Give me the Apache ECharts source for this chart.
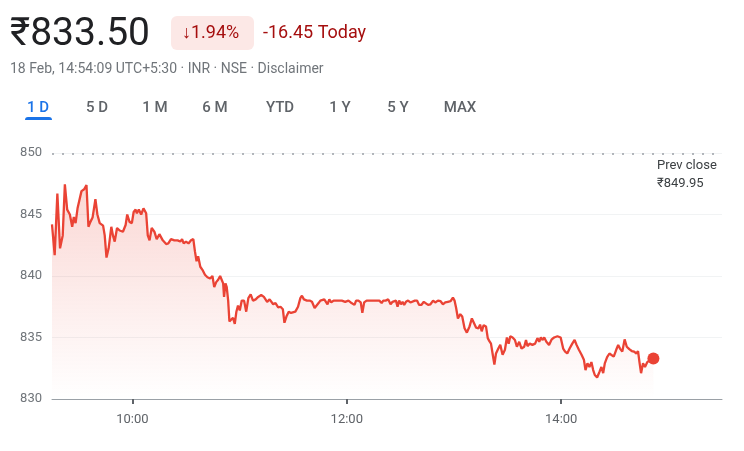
<!DOCTYPE html>
<html>
<head>
<meta charset="utf-8">
<script src="https://cdn.jsdelivr.net/npm/echarts@6/dist/echarts.min.js"></script>
<style>
  html, body { margin: 0; padding: 0; background: #fff; }
  #chart { width: 744px; height: 451px; }
</style>
</head>
<body>
<div id="chart"></div>
<script>
// minutes since market open (09:15)
const minutes = [
  0, 1.5, 3.0, 4.5, 6.0, 7.2, 8.5, 10.0, 11.3, 12.2, 13.2, 14.3, 15.2, 16.5, 18.0, 19.3,
  20.4, 21.5, 22.7, 23.4, 24.3, 25.4, 26.7, 28.6, 29.5, 30.5, 31.7, 33.2, 34.1, 35.1, 36.4, 37.9,
  39.7, 41.2, 42.1, 43.4, 44.7, 45.7, 46.8, 47.5, 48.6, 49.9, 51.2, 52.7, 53.6, 54.6, 55.8, 57.3,
  58.6, 60.1, 62.0, 63.9, 65.1, 66.6, 68.5, 70.3, 71.8, 72.8, 73.7, 75.0, 76.4, 77.8, 79.1, 80.0,
  80.9, 81.8, 83.0, 84.2, 85.6, 87.0, 88.5, 89.8, 90.8, 91.9, 93.0, 94.1, 95.0, 95.8, 96.3, 97.1,
  97.8, 98.6, 99.3, 100.4, 101.3, 102.3, 103.2, 104.1, 105.1, 106.2, 107.5, 108.7, 109.9, 111.2, 112.5, 114.0,
  115.4, 117.1, 118.6, 120.4, 121.8, 122.9, 123.8, 125.1, 126.6, 127.9, 129.2, 130.1, 131.2, 132.5, 133.8, 134.9,
  136.2, 137.7, 139.0, 139.9, 141.0, 142.7, 144.2, 145.5, 147.0, 148.1, 149.2, 150.2, 151.1, 152.4, 153.3, 154.2,
  155.2, 156.3, 157.6, 160.4, 162.2, 164.1, 165.9, 167.2, 168.3, 169.3, 170.2, 171.5, 172.8, 173.7, 174.7, 176.1,
  178.0, 179.8, 181.7, 183.2, 184.5, 185.4, 186.7, 188.2, 189.5, 190.6, 191.5, 192.5, 193.4, 194.3, 195.3, 196.2,
  197.1, 198.1, 199.3, 200.6, 201.7, 203.1, 204.3, 205.5, 206.7, 208.1, 209.2, 210.5, 211.8, 213.3, 214.5, 216.0,
  217.5, 218.8, 220.1, 221.6, 223.1, 224.4, 225.3, 226.2, 227.2, 228.5, 229.6, 230.9, 232.2, 233.7, 235.0, 236.1,
  237.4, 238.7, 239.6, 240.5, 241.6, 242.9, 243.9, 244.8, 245.7, 246.7, 247.6, 248.5, 249.8, 250.9, 252.2, 253.5,
  254.6, 255.6, 256.5, 257.8, 259.1, 260.2, 261.5, 262.8, 264.3, 265.3, 266.1, 267.4, 268.9, 270.4, 271.7, 272.7,
  273.6, 274.5, 275.5, 276.7, 278.2, 279.7, 281.0, 282.9, 284.7, 286.1, 287.2, 288.4, 289.7, 291.2, 292.5, 293.6,
  294.9, 296.4, 297.7, 298.6, 299.7, 300.8, 301.9, 302.9, 303.8, 305.1, 306.4, 307.5, 308.5, 309.4, 310.7, 312.0,
  313.1, 314.4, 315.8, 316.9, 317.9, 319.2, 320.5, 321.7, 323.1, 324.5, 325.8, 327.1, 328.0, 328.9, 329.7, 330.8,
  331.9, 333.2, 335.0, 336.6
]
const prices = [
  844.2, 841.7, 846.7, 842.25, 843.3, 847.45, 845.4, 845, 844, 844.8, 844.3, 845.5, 845.6, 846.9, 847.05, 847.4,
  844, 844.4, 844.75, 844.7, 846.25, 845, 844.3, 844.1, 843.3, 841.5, 842.25, 844, 843.3, 842.8, 843.9, 843.7,
  843.6, 844.15, 845, 844.4, 844.3, 845.2, 845.4, 845.1, 845.4, 845, 845.5, 845.1, 843.3, 842.9, 843.9, 843.6,
  843, 843.4, 842.9, 842.6, 842.65, 843, 842.9, 842.9, 842.8, 843, 842.65, 842.8, 842.65, 842.9, 843, 842,
  841.2, 841.6, 840.75, 840.5, 840.1, 839.9, 839.8, 840, 839.1, 839.5, 839.7, 840, 840.1, 839.4, 838.3, 839.4,
  839.1, 838, 836.3, 836.15, 836.6, 836.1, 837.1, 837.6, 837.2, 838, 838, 837.1, 838.2, 838.5, 838, 838.1,
  838.3, 838.45, 838.3, 837.9, 838.1, 838.2, 837.7, 837.8, 837.45, 837.5, 837.3, 836.2, 836.7, 837.1, 837, 837,
  837.1, 837.5, 838.2, 838.4, 838.1, 838, 838, 837.9, 837.4, 837.3, 837.8, 838, 837.85, 838.1, 838.2, 837.7,
  838.1, 837.85, 838, 838, 838, 837.9, 838, 837.85, 838, 837.65, 838, 838, 837.85, 837, 837.85, 838,
  838, 838, 838, 838, 837.8, 838, 838, 838.1, 837.7, 837.9, 838, 838, 837.5, 838, 837.7, 837.9,
  837.65, 837.9, 838, 837.85, 837.9, 838, 838, 837.65, 837.65, 837.9, 838, 837.65, 837.7, 838, 837.85, 838,
  837.95, 837.7, 837.85, 837.9, 837.95, 838.25, 838, 837.4, 836.55, 836.9, 836.7, 835.75, 835.4, 835.9, 836.55, 836.4,
  835.8, 835.75, 836.05, 835.5, 836, 835.9, 834.95, 834.7, 834.5, 833.6, 832.8, 833.7, 834.1, 834.4, 833.6, 834,
  835, 834.5, 835.1, 835, 834.8, 834.25, 834.65, 834.1, 834.25, 834.8, 834.3, 834.5, 834.4, 834.5, 834.95, 834.65,
  835, 834.8, 835, 834.65, 834.4, 834.85, 835, 835.1, 835, 834.1, 833.85, 833.7, 834.1, 834.5, 834.8, 834.4,
  834, 833.6, 833.2, 832.35, 832.9, 832.6, 833, 832.35, 831.95, 831.75, 832.2, 832.6, 832.1, 832.9, 833.4, 833.7,
  833.85, 833.45, 834, 834.4, 834.1, 833.85, 834.85, 834.25, 834.05, 833.9, 833.85, 833.7, 833.9, 832.9, 832.1, 832.9,
  832.6, 833, 833.2, 833.3
]
const prevClose = 849.95
const sessionLength = 375 // 09:15 - 15:30
const timeTicks = [45, 165, 285] // 10:00, 12:00, 14:00
const ranges = ['1 D', '5 D', '1 M', '6 M', 'YTD', '1 Y', '5 Y', 'MAX']
const rangeX = [38, 97, 155, 215, 280, 340, 398, 460]

const FONT = 'Roboto, "Noto Sans", sans-serif'

function toClock(m) {
  const total = 9 * 60 + 15 + m
  const h = Math.floor(total / 60)
  const mm = total % 60
  return h + ':' + (mm < 10 ? '0' : '') + mm
}

const chart = echarts.init(document.getElementById('chart'))

const graphic = [
  { type: 'text', left: 10, top: 16, style: { text: '₹833.50', font: '400 39px ' + FONT, fill: '#202124' } },
  { type: 'rect', shape: { x: 171, y: 16, width: 83, height: 34, r: 6 }, style: { fill: '#fce8e6' } },
  { type: 'text', x: 182, y: 33, style: { text: '↓1.94%', font: '400 18px ' + FONT, fill: '#a50e0e', verticalAlign: 'middle' } },
  { type: 'text', x: 263, y: 33, style: { text: '-16.45 Today', font: '400 18px ' + FONT, fill: '#a50e0e', verticalAlign: 'middle' } },
  { type: 'text', x: 10, y: 69, style: { text: '18 Feb, 14:54:09 UTC+5:30 · INR · NSE · Disclaimer', font: '400 14px ' + FONT, fill: '#70757a', verticalAlign: 'middle' } },
  { type: 'rect', shape: { x: 25, y: 117, width: 27, height: 3, r: [3, 3, 0, 0] }, style: { fill: '#1a73e8' } },
  { type: 'text', x: 657, y: 166, style: { text: 'Prev close', font: '400 13px ' + FONT, fill: '#3c4043', verticalAlign: 'middle' } },
  { type: 'text', x: 657, y: 184, style: { text: '₹849.95', font: '400 13px ' + FONT, fill: '#3c4043', verticalAlign: 'middle' } }
]
ranges.forEach((r, i) => {
  graphic.push({
    type: 'text',
    x: rangeX[i],
    y: 108,
    style: {
      text: r,
      font: '500 15px ' + FONT,
      fill: i === 0 ? '#1a73e8' : '#5f6368',
      align: 'center',
      verticalAlign: 'middle'
    }
  })
})

const series = minutes.map((m, i) => [m, prices[i]])
const last = series[series.length - 1]

chart.setOption({
  animation: false,
  graphic: graphic,
  grid: { left: 52, right: 22, top: 153, bottom: 52 },
  xAxis: {
    type: 'value',
    min: 0,
    max: sessionLength,
    splitLine: { show: false },
    axisLine: { lineStyle: { color: '#9aa0a6', width: 1 } },
    axisTick: {
      show: true,
      customValues: timeTicks,
      length: 5,
      lineStyle: { color: '#5f6368', width: 2 }
    },
    axisLabel: {
      customValues: timeTicks,
      formatter: v => toClock(v),
      color: '#5f6368',
      fontSize: 13,
      fontFamily: FONT,
      margin: 14
    }
  },
  yAxis: {
    type: 'value',
    min: 830,
    max: 850,
    interval: 5,
    axisLine: { show: false },
    axisTick: { show: false },
    axisLabel: { color: '#70757a', fontSize: 13, fontFamily: FONT, margin: 10 },
    splitLine: { lineStyle: { color: '#f1f3f4', width: 1 } }
  },
  series: [
    {
      type: 'line',
      data: series,
      showSymbol: false,
      symbol: 'none',
      lineStyle: { color: '#ea4335', width: 2.3 },
      areaStyle: {
        origin: 'start',
        color: new echarts.graphic.LinearGradient(0, 0, 0, 1, [
          { offset: 0, color: 'rgba(234,67,53,0.3)' },
          { offset: 1, color: 'rgba(234,67,53,0.0)' }
        ])
      },
      markLine: {
        silent: true,
        symbol: 'none',
        label: { show: false },
        lineStyle: { color: '#9aa0a6', type: [2, 8], width: 1.5 },
        data: [{ yAxis: prevClose }]
      }
    },
    {
      type: 'scatter',
      data: [last],
      symbolSize: 12,
      itemStyle: { color: '#ea4335', opacity: 1 },
      silent: true
    }
  ]
})
</script>
</body>
</html>
